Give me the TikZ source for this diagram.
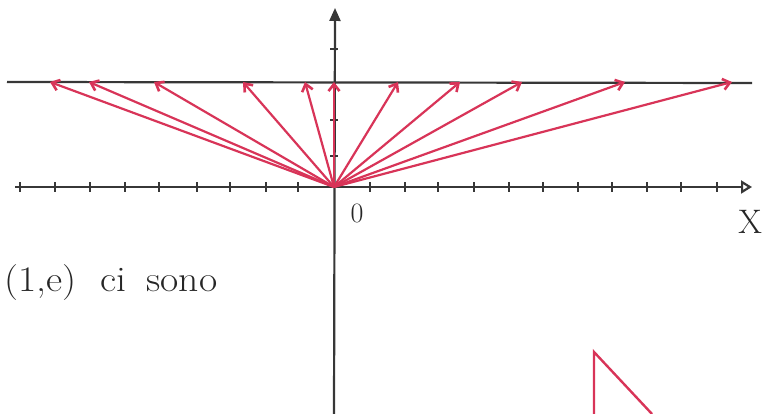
\documentclass[tikz,border=0pt]{standalone}
\usepackage{fontspec}
\usetikzlibrary{arrows.meta}
\definecolor{vecred}{RGB}{216,52,88}
\definecolor{axisgray}{RGB}{55,55,55}
\tikzset{
  axisline/.style={draw=axisgray, line width=2.2pt},
  tickline/.style={draw=axisgray, line width=1.6pt},
  vecline/.style={draw=vecred, line width=2.2pt, -{Straight Barb[length=7pt,width=11pt,line width=2.6pt]}},
  redline/.style={draw=vecred, line width=2.4pt},
  lbl/.style={inner sep=0pt, text=black!85}
}
\begin{document}
\begin{tikzpicture}[x=1pt,y=1pt]
\useasboundingbox (0,0) rectangle (762,414);
% key points
\coordinate (O) at (334,227);
\coordinate (xl) at (15,227);
\coordinate (xr) at (752,227);
\coordinate (yb) at (334,0);
\coordinate (yt) at (335,406);
\coordinate (hl) at (7,332);
\coordinate (hr) at (752,331);
% horizontal line y = 3
\draw[axisline] (hl) -- (hr);
% axes
\draw[axisline, -{Triangle[open,length=11pt,width=13pt,line width=2.2pt]}] (xl) -- (xr);
\draw[axisline, -{Triangle[length=13pt,width=11pt]}] (yb) -- (yt);
% x ticks
\foreach \t in {20,55,90,125,159,197,230,266,298,370,405,438,474,509,543,578,612,647,681,717}{
  \draw[tickline] (\t,222) -- (\t,232);
}
% y ticks
\foreach \t in {258,294,365}{
  \draw[tickline] (330,\t) -- (338,\t);
}
% vectors
\foreach \i/\x in {1/50,2/89,3/154,4/243,5/305,6/334,7/398,8/460,9/522,10/625,11/732}{
  \coordinate (t\i) at (\x,332);
  \draw[vecline] (O) -- (t\i);
}
% red triangle
\coordinate (ta) at (594,62);
\coordinate (tb) at (594,0);
\coordinate (tc) at (652,0);
\draw[redline] (tb) -- (ta) -- (tc);
% labels
\node[lbl, font=\fontsize{28}{30}\selectfont] (lo) at (357,201) {0};
\node[lbl, anchor=east, font=\fontsize{34}{36}\selectfont] (lx) at (762,192) {X};
\node[lbl, anchor=west, xscale=1.1, font=\fontsize{36}{38}\selectfont] (lt) at (4,131) {(1,e)\hspace{22pt}ci\hspace{18pt}sono};
\end{tikzpicture}
\end{document}
